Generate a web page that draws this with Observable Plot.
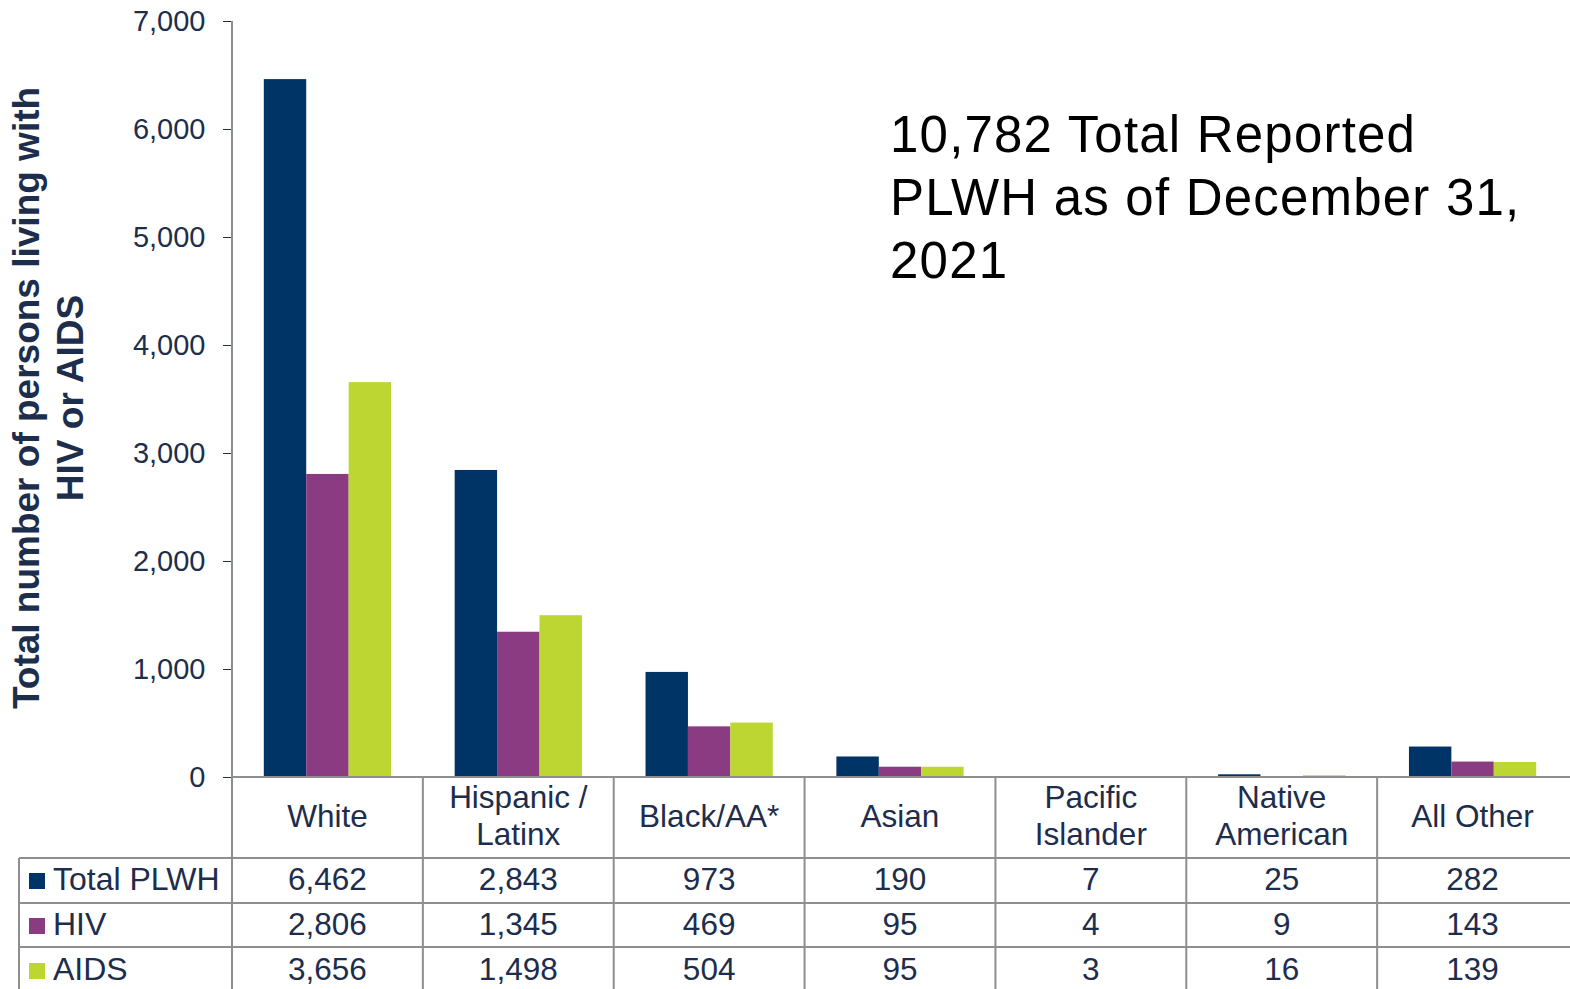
<!DOCTYPE html>
<html>
<head>
<meta charset="utf-8">
<script src="https://cdn.jsdelivr.net/npm/d3@7"></script>
<script src="https://cdn.jsdelivr.net/npm/@observablehq/plot@0.6"></script>
<style>
  html, body { margin: 0; padding: 0; background: #fff; }
  #chart { width: 1570px; height: 989px; overflow: hidden; }
</style>
</head>
<body>
<div id="chart"></div>
<script>
// ---- data ----
const categories = ["White", "Hispanic / Latinx", "Black/AA*", "Asian", "Pacific Islander", "Native American", "All Other"];
const categoryLabels = [["White"], ["Hispanic /", "Latinx"], ["Black/AA*"], ["Asian"], ["Pacific", "Islander"], ["Native", "American"], ["All Other"]];
const series = ["Total PLWH", "HIV", "AIDS"];
const totalPLWH = [6462, 2843, 973, 190, 7, 25, 282];
const hiv = [2806, 1345, 469, 95, 4, 9, 143];
const aids = [3656, 1498, 504, 95, 3, 16, 139];
const seriesColors = ["#003366", "#8B3B81", "#BDD631"];
const yTicks = [0, 1000, 2000, 3000, 4000, 5000, 6000, 7000];
const yTitle = ["Total number of persons living with", "HIV or AIDS"];
const titleLines = ["10,782 Total Reported", "PLWH as of December 31,", "2021"];

const seriesValues = [totalPLWH, hiv, aids];
const rows = categories.flatMap((c, i) => series.map((s, j) => ({category: c, series: s, value: seriesValues[j][i]})));

const FONT = "'Liberation Sans', Arial, Helvetica, sans-serif";
const TEXT = "#1d2d4c";
const GRID = "#8e8e8e";
const fmt = d3.format(",");

const plot = Plot.plot({
  width: 1570,
  height: 989,
  marginLeft: 232,
  marginRight: 2,
  marginTop: 21,
  marginBottom: 212,
  style: {fontFamily: FONT, fontSize: "29px", color: TEXT, background: "white", overflow: "visible"},
  facet: {data: rows, x: "category"},
  fx: {domain: categories, padding: 0, round: false, axis: null},
  x: {domain: series, paddingInner: 0, paddingOuter: 0.75, round: false, axis: null},
  y: {domain: [0, 7000], ticks: yTicks, tickFormat: d => fmt(d), tickSize: 9, tickPadding: 18, label: null},
  color: {domain: series, range: seriesColors},
  marks: [
    Plot.barY(rows, {x: "series", y: "value", fill: "series"})
  ]
});

document.getElementById("chart").appendChild(plot);
const svg = d3.select(plot);

// style y axis
svg.selectAll("[aria-label^='y-axis'] text").attr("fill", TEXT).style("font-size", "29px");
svg.selectAll("[aria-label^='y-axis'] line").attr("stroke", GRID).attr("stroke-width", 2);
svg.selectAll("[aria-label^='y-axis'] path.domain").remove();

// scales from the plot
const fxInfo = plot.scale("fx");
const fxs = d3.scaleBand().domain(fxInfo.domain).range(fxInfo.range)
  .paddingInner(fxInfo.paddingInner ?? 0).paddingOuter(fxInfo.paddingOuter ?? 0).align(fxInfo.align ?? 0.5);
const yInfo = plot.scale("y");
const ys = d3.scaleLinear().domain(yInfo.domain).range(yInfo.range);
const bw = fxs.bandwidth();
const y0 = ys(0);
const leftX = fxs(categories[0]);
const rightX = 1570;
const bottomY = 989;
const labelColX = 19;
const rowTops = [858, 903, 947];
const rowBaselines = [890, 935, 980];

const g = svg.append("g").attr("font-family", FONT).attr("text-anchor", "start");

// table grid
const line = (x1, y1, x2, y2) => g.append("line").attr("x1", x1).attr("y1", y1).attr("x2", x2).attr("y2", y2)
  .attr("stroke", GRID).attr("stroke-width", 2);
line(leftX, ys(7000), leftX, bottomY);
line(leftX, y0, rightX, y0);
categories.forEach((c, i) => { if (i > 0) line(fxs(c), y0, fxs(c), bottomY); });
line(labelColX, rowTops[0], labelColX, bottomY);
rowTops.forEach(t => line(labelColX, t, rightX, t));

// header labels
categories.forEach((c, i) => {
  const lines = categoryLabels[i];
  const baselines = lines.length === 1 ? [827] : [808, 845];
  lines.forEach((t, k) => {
    g.append("text").attr("x", fxs(c) + bw / 2).attr("y", baselines[k])
      .attr("text-anchor", "middle").attr("fill", TEXT).attr("font-size", 31.5).text(t);
  });
});

// rows
series.forEach((s, j) => {
  const b = rowBaselines[j];
  g.append("rect").attr("x", 29).attr("y", b - 17).attr("width", 16).attr("height", 16).attr("fill", seriesColors[j]);
  g.append("text").attr("x", 53).attr("y", b).attr("text-anchor", "start").attr("fill", TEXT).attr("font-size", 32).text(s);
  categories.forEach((c, i) => {
    g.append("text").attr("x", fxs(c) + bw / 2).attr("y", b).attr("text-anchor", "middle")
      .attr("fill", TEXT).attr("font-size", 31.5).text(fmt(seriesValues[j][i]));
  });
});

// y axis title
const yt = g.append("text").attr("transform", "translate(0,398) rotate(-90)")
  .attr("text-anchor", "middle").attr("fill", TEXT).attr("font-size", 37).attr("font-weight", "bold");
yTitle.forEach((t, k) => yt.append("tspan").attr("x", 0).attr("y", 39 + k * 44).text(t));

// annotation
const tt = g.append("text").attr("fill", "#000").attr("font-size", 51).attr("letter-spacing", 1.2).attr("text-anchor", "start");
titleLines.forEach((t, k) => tt.append("tspan").attr("x", 890).attr("y", 152 + k * 63).text(t));
</script>
</body>
</html>
